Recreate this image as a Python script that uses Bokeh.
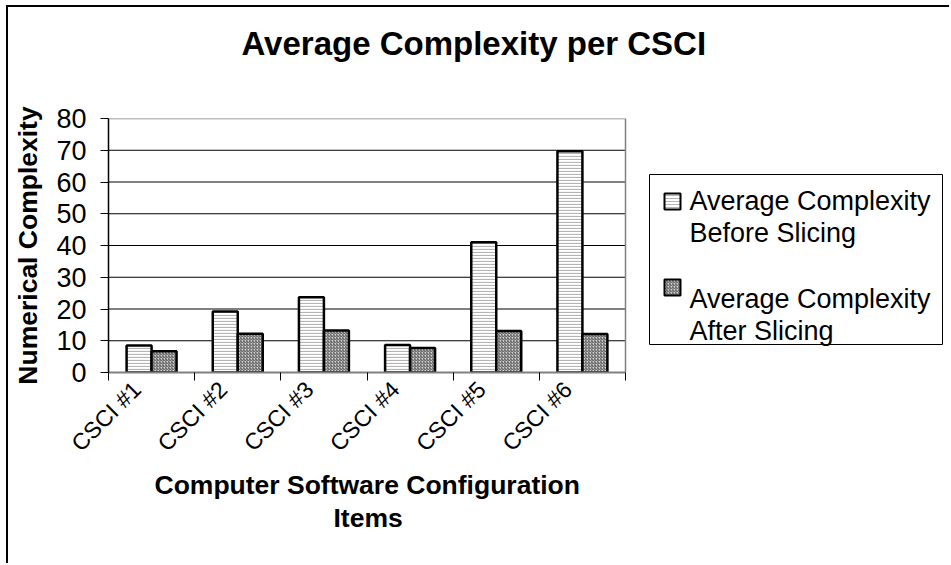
import math
import numpy as np
from bokeh.plotting import figure
from bokeh.models import Range1d, FixedTicker, Title, Label, BoxAnnotation
from bokeh.embed import file_html
from bokeh.resources import INLINE

# --- data -------------------------------------------------------------
categories = ["CSCI #1", "CSCI #2", "CSCI #3", "CSCI #4", "CSCI #5", "CSCI #6"]
before_slicing = [8.5, 19.2, 23.7, 8.7, 41.0, 69.7]
after_slicing = [6.7, 12.2, 13.2, 7.7, 13.1, 12.1]
y_ticks = [0, 10, 20, 30, 40, 50, 60, 70, 80]

series_names = ["Average Complexity\nBefore Slicing", "Average Complexity\nAfter Slicing"]
x_title_lines = ["Computer Software Configuration", "Items"]

FONT = "Liberation Sans"
BAR_W = 0.29
LABEL_SHIFT = 0.17
N = len(categories)
Y_MAX = y_ticks[-1]

# the plotting frame is wider than the bar area so the legend can live inside it
PLOT_PX = 517      # width of the bar area
FRAME_PX = 837     # bar area + legend strip
X_END = N * FRAME_PX / PLOT_PX

centers = np.arange(N) + 0.5

p = figure(
    width=943, height=558,
    x_range=Range1d(0, X_END), y_range=Range1d(0, Y_MAX),
    output_backend="svg", toolbar_location=None,
    min_border_left=100, min_border_right=6,
    min_border_top=0, min_border_bottom=193,
    background_fill_color="white", border_fill_color="white",
)
# chart-area frame: a rule along the left and top of the whole chart
p.margin = (5, 0, 0, 6)
p.styles = {"border-left": "2px solid black", "border-top": "2px solid black"}
p.outline_line_color = None

# --- title (outermost) plus a blank spacer title next to the frame -----
p.title.text = "Average Complexity per CSCI"
p.title.text_font = FONT
p.title.text_font_size = "33px"
p.title.text_font_style = "bold"
p.title.text_color = "black"
p.title.align = "left"
p.title.offset = 133
p.title.vertical_align = "top"
p.title.standoff = 34
p.add_layout(Title(text=" ", text_font_size="10px", standoff=25), "above")

# --- gridlines and plot-area border, limited to the bar area -----------
p.xgrid.visible = False
p.ygrid.visible = False
inner = y_ticks[1:-1]
p.segment(x0=[0] * len(inner), x1=[N] * len(inner), y0=inner, y1=inner,
          line_color="black", line_width=1)
p.line(x=[0, N, N], y=[Y_MAX, Y_MAX, 0], line_color="#808080", line_width=1.5)

# --- bars -------------------------------------------------------------
p.vbar(x=centers - BAR_W / 2, top=before_slicing, width=BAR_W, bottom=0,
       fill_color="white", line_color="black", line_width=2.5,
       hatch_pattern="horizontal_line", hatch_color="#b4b4b4",
       hatch_scale=3, hatch_weight=1.2)
p.vbar(x=centers + BAR_W / 2, top=after_slicing, width=BAR_W, bottom=0,
       fill_color="#d4d4d4", line_color="black", line_width=2.5,
       hatch_pattern="right_diagonal_line", hatch_color="#505050",
       hatch_scale=3, hatch_weight=1)

# --- axes -------------------------------------------------------------
yax = p.yaxis[0]
yax.ticker = FixedTicker(ticks=y_ticks)
yax.axis_line_color = "black"
yax.axis_line_width = 1.5
yax.major_tick_out = 8
yax.major_tick_in = 0
yax.major_tick_line_color = "black"
yax.minor_tick_line_color = None
yax.major_label_standoff = 14
yax.major_label_text_font = FONT
yax.major_label_text_font_size = "27px"
yax.major_label_text_color = "black"
yax.axis_label = "Numerical Complexity"
yax.axis_label_text_font = FONT
yax.axis_label_text_font_size = "26.5px"
yax.axis_label_text_font_style = "bold"
yax.axis_label_text_color = "black"
yax.axis_label_standoff = 10

# category names sit slightly left of each group centre, ticks mark group edges
label_pos = [float(c - LABEL_SHIFT) for c in centers]
xax = p.xaxis[0]
xax.bounds = (0, N)
xax.ticker = FixedTicker(ticks=label_pos, minor_ticks=list(range(N + 1)))
xax.major_label_overrides = {pos: name for pos, name in zip(label_pos, categories)}
xax.major_label_orientation = math.pi / 4
xax.axis_line_color = "#808080"
xax.axis_line_width = 2
xax.major_tick_line_color = None
xax.minor_tick_out = 8
xax.minor_tick_in = 0
xax.minor_tick_line_color = "black"
xax.major_label_standoff = 5
xax.major_label_text_font = FONT
xax.major_label_text_font_size = "23px"
xax.major_label_text_color = "black"

# x-axis title, two lines centred under the bar area (not the wider frame)
for text, offset, standoff in zip(x_title_lines, [46, 225], [2, 0]):
    p.add_layout(Title(text=text, align="left", offset=offset,
                       vertical_align="top", standoff=standoff,
                       text_font=FONT, text_font_size="26.5px",
                       text_font_style="bold", text_color="black"), "below")

# --- legend (screen units, measured from the frame's lower-left corner) --
def screen_box(left, right, top, bottom, **kw):
    return BoxAnnotation(left=left, right=right, top=top, bottom=bottom,
                         left_units="screen", right_units="screen",
                         top_units="screen", bottom_units="screen", **kw)

p.add_layout(screen_box(541, 834, 198, 28, fill_color="white", fill_alpha=1,
                        line_color="black", line_width=1, line_alpha=1))

swatches = [
    dict(top=179, fill_color="white", hatch_pattern="horizontal_line", hatch_color="#b4b4b4"),
    dict(top=93, fill_color="#d4d4d4", hatch_pattern="right_diagonal_line", hatch_color="#505050"),
]
for sw, name, line_y in zip(swatches, series_names, [172, 74]):
    p.add_layout(screen_box(556, 572, sw["top"], sw["top"] - 16,
                            fill_color=sw["fill_color"], fill_alpha=1,
                            hatch_pattern=sw["hatch_pattern"], hatch_color=sw["hatch_color"],
                            hatch_scale=3, hatch_weight=1,
                            line_color="black", line_width=2, line_alpha=1))
    for k, part in enumerate(name.split("\n")):
        p.add_layout(Label(x=581, y=line_y - 32 * k, x_units="screen", y_units="screen",
                           text=part, text_font=FONT, text_font_size="27px",
                           text_align="left", text_baseline="middle",
                           text_color="black"))

open("out.html", "w").write(file_html(p, INLINE))
